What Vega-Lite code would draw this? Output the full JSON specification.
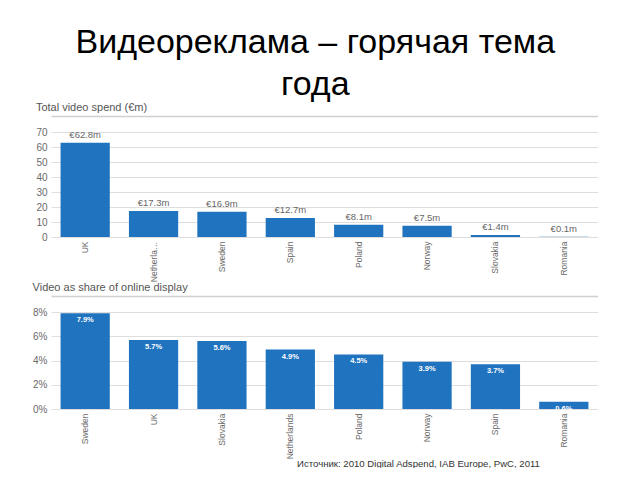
{
  "$schema": "https://vega.github.io/schema/vega-lite/v6.json",
  "background": "white",
  "padding": {"left": 32, "top": 26, "right": 0, "bottom": 0},
  "title": {
    "text": ["Видеореклама – горячая тема", "года"],
    "fontSize": 34,
    "font": "Liberation Sans",
    "fontWeight": "normal",
    "color": "#000000",
    "lineHeight": 42,
    "anchor": "middle",
    "offset": 0
  },
  "config": {
    "view": {"stroke": null},
    "font": "Liberation Sans",
    "axis": {
      "domain": false,
      "ticks": false,
      "gridColor": "#dedede",
      "gridWidth": 1.2,
      "labelColor": "#6a6a6a",
      "labelFont": "Liberation Sans",
      "labelOverlap": false
    }
  },
  "bounds": "flush",
  "spacing": 75,
  "vconcat": [
    {
      "width": 547,
      "height": 105,
      "title": {"text": "Total video spend (€m)", "anchor": "start", "frame": "bounds", "fontSize": 11, "fontWeight": "normal", "color": "#555555", "font": "Liberation Sans", "offset": 3},
      "data": {"values": [
        {"country": "UK", "spend": 62.8, "label": "€62.8m"},
        {"country": "Netherlands", "spend": 17.3, "label": "€17.3m"},
        {"country": "Sweden", "spend": 16.9, "label": "€16.9m"},
        {"country": "Spain", "spend": 12.7, "label": "€12.7m"},
        {"country": "Poland", "spend": 8.1, "label": "€8.1m"},
        {"country": "Norway", "spend": 7.5, "label": "€7.5m"},
        {"country": "Slovakia", "spend": 1.4, "label": "€1.4m"},
        {"country": "Romania", "spend": 0.1, "label": "€0.1m"}
      ]},
      "encoding": {
        "x": {"field": "country", "type": "nominal", "sort": null, "scale": {"paddingInner": 0.28, "paddingOuter": 0.14},
          "axis": {"title": null, "labelAngle": -90, "labelFontSize": 8.5, "labelPadding": 4, "labelLimit": 44}},
        "y": {"field": "spend", "type": "quantitative", "scale": {"domain": [0, 70]},
          "axis": {"title": null, "values": [0, 10, 20, 30, 40, 50, 60, 70], "labelFontSize": 10, "labelPadding": 4}}
      },
      "resolve": {"axis": {"x": "independent"}},
      "layer": [
        {
          "mark": {"type": "bar", "color": "#1F73BF"}
        },
        {
          "mark": {"type": "text", "baseline": "bottom", "dy": -3, "fontSize": 9.5, "color": "#666666"},
          "encoding": {
            "x": {"field": "country", "type": "nominal", "sort": null,
              "axis": {"orient": "top", "offset": 16, "labels": false, "ticks": false, "domain": true, "domainColor": "#d0d0d0", "domainWidth": 1.5, "title": null, "grid": false}},
            "text": {"field": "label"}
          }
        }
      ]
    },
    {
      "width": 547,
      "height": 97,
      "title": {"text": "Video as share of online display", "anchor": "start", "frame": "bounds", "fontSize": 11, "fontWeight": "normal", "color": "#555555", "font": "Liberation Sans", "offset": 3},
      "data": {"values": [
        {"country": "Sweden", "share": 7.9, "label": "7.9%"},
        {"country": "UK", "share": 5.7, "label": "5.7%"},
        {"country": "Slovakia", "share": 5.6, "label": "5.6%"},
        {"country": "Netherlands", "share": 4.9, "label": "4.9%"},
        {"country": "Poland", "share": 4.5, "label": "4.5%"},
        {"country": "Norway", "share": 3.9, "label": "3.9%"},
        {"country": "Spain", "share": 3.7, "label": "3.7%"},
        {"country": "Romania", "share": 0.6, "label": "0.6%"}
      ]},
      "encoding": {
        "x": {"field": "country", "type": "nominal", "sort": null, "scale": {"paddingInner": 0.28, "paddingOuter": 0.14},
          "axis": {"title": "Источник: 2010 Digital Adspend, IAB Europe, PwC, 2011", "titleFont": "Liberation Sans", "titleFontSize": 9.6, "titleFontWeight": "normal", "titleColor": "#333333", "titleX": 367, "titleY": 54, "titleAlign": "center", "titleBaseline": "middle",
            "labelAngle": -90, "labelFontSize": 8.5, "labelPadding": 4}},
        "y": {"field": "share", "type": "quantitative", "scale": {"domain": [0, 8]},
          "axis": {"title": null, "values": [0, 2, 4, 6, 8], "labelExpr": "datum.value + '%'", "labelFontSize": 10, "labelPadding": 4}}
      },
      "resolve": {"axis": {"x": "independent"}},
      "layer": [
        {
          "mark": {"type": "bar", "color": "#1F73BF"}
        },
        {
          "mark": {"type": "text", "baseline": "top", "dy": 3, "fontSize": 7.5, "fontWeight": "bold", "color": "#ffffff"},
          "encoding": {
            "x": {"field": "country", "type": "nominal", "sort": null,
              "axis": {"orient": "top", "offset": 16, "labels": false, "ticks": false, "domain": true, "domainColor": "#d0d0d0", "domainWidth": 1.5, "title": null, "grid": false}},
            "text": {"field": "label"}
          }
        }
      ]
    }
  ]
}
